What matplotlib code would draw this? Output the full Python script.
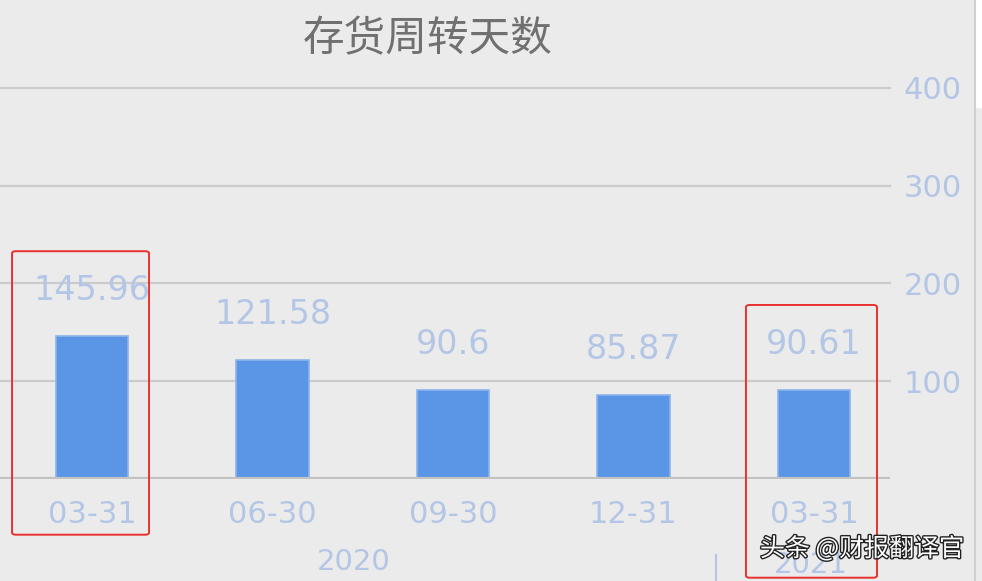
import matplotlib.pyplot as plt
import matplotlib.patches as patches
import matplotlib.patheffects as pe

plt.rcParams['font.family'] = ['DejaVu Sans', 'Noto Sans CJK SC']

# 数据
fechas = ['03-31', '06-30', '09-30', '12-31', '03-31']
dias = [145.96, 121.58, 90.6, 85.87, 90.61]
etiquetas = ['145.96', '121.58', '90.6', '85.87', '90.61']
anios = ['2020', '2021']
ticks_y = [0, 100, 200, 300, 400]

fondo = '#ebebeb'
azul = '#5b96e6'
azul_claro = '#b3c6e6'

fig = plt.figure(figsize=(9.82, 5.81), dpi=100, facecolor=fondo)
ax = fig.add_axes([0.0, 0.1756, 0.9063, 0.6730])
ax.set_facecolor(fondo)

x = list(range(len(dias)))
ax.bar(x, dias, width=0.40, color=azul, edgecolor='#8db4ec', linewidth=1.2, zorder=3)

for xi, v, t in zip(x, dias, etiquetas):
    ax.annotate(t, (xi, v), xytext=(0, 33), textcoords='offset points',
                ha='center', va='center', fontsize=24, color=azul_claro)

ax.set_xlim(-0.5097, 4.421)
ax.set_ylim(0, 400)

# rejilla
for t in ticks_y[1:]:
    ax.axhline(t, color='#cbcbcb', lw=1.6, zorder=1, clip_on=False)
ax.axhline(0, color='#c2c2c2', lw=3, zorder=4)

for s in ax.spines.values():
    s.set_visible(False)

ax.yaxis.tick_right()
ax.set_yticks(ticks_y[1:])
ax.set_yticklabels([str(t) for t in ticks_y[1:]])
ax.tick_params(axis='y', length=0, pad=10, labelsize=22, labelcolor=azul_claro)

ax.set_xticks(x)
ax.set_xticklabels(fechas)
ax.tick_params(axis='x', length=0, pad=15, labelsize=22, labelcolor=azul_claro)

# años
ax.text(1.45, -85, anios[0], ha='center', va='center', fontsize=21,
        color=azul_claro, clip_on=False)
ax.text(3.98, -88, anios[1], ha='center', va='center', fontsize=21,
        color=azul_claro, clip_on=False)
ax.plot([3.457, 3.457], [-78, -105], color=azul_claro, lw=1.5, clip_on=False)

# recuadros rojos
for x0, x1, y0, y1 in [(-0.443, 0.316, -57, 233), (3.623, 4.349, -101, 178)]:
    ax.add_patch(patches.FancyBboxPatch((x0, y0), x1 - x0, y1 - y0,
                                        boxstyle='round,pad=0,rounding_size=0.02',
                                        fill=False, edgecolor='#e8312e', lw=1.4,
                                        clip_on=False, zorder=6,
                                        mutation_aspect=120))

fig.text(428 / 982, 1 - 40 / 581, '存货周转天数', ha='center', va='center',
         fontsize=30, color='#707070', family=['Noto Sans CJK SC', 'DejaVu Sans'])

# borde derecho
fig.add_artist(plt.Line2D([975 / 982, 975 / 982], [0, 1], color='#d0d0d0', lw=1.5))
fig.add_artist(patches.Rectangle((976 / 982, 1 - 107 / 581), 6 / 982, 107 / 581,
                                 color='white', transform=fig.transFigure))

fig.text(862 / 982, 1 - 549 / 581, '头条 @财报翻译官', ha='center', va='center',
         fontsize=18, color='white', family=['Noto Sans CJK SC', 'DejaVu Sans'],
         path_effects=[pe.withStroke(linewidth=2, foreground='#222222')])

fig.savefig('out.png', dpi=100, facecolor=fondo)
